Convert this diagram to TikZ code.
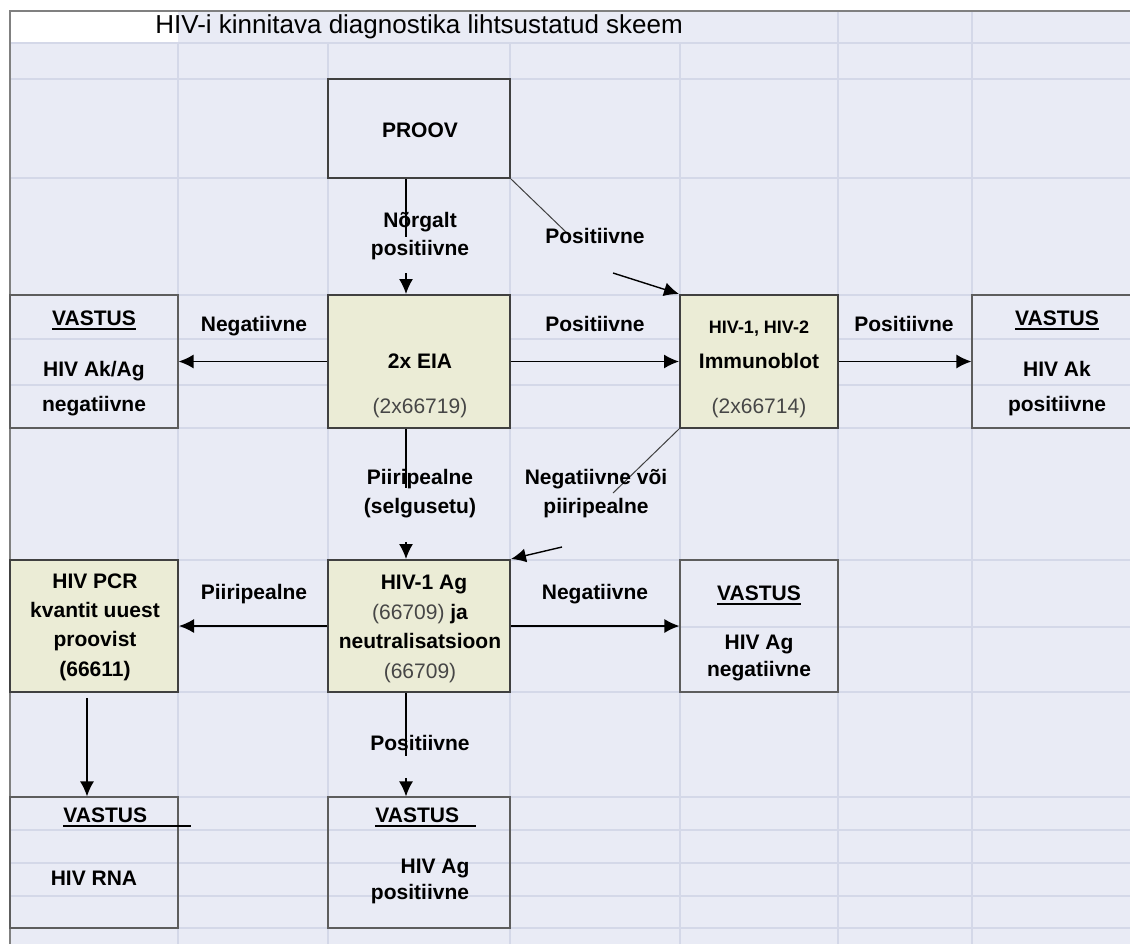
\documentclass[tikz,border=0pt]{standalone}
\usepackage{fontspec}
\setmainfont{Liberation Sans}
\usetikzlibrary{arrows.meta}
\usetikzlibrary{calc}
\usetikzlibrary{fit}

\definecolor{sheet}{RGB}{233,235,245}
\definecolor{gridline}{RGB}{212,216,232}
\definecolor{beige}{RGB}{235,236,214}
\definecolor{boxline}{RGB}{64,64,64}
\definecolor{codegray}{RGB}{70,70,70}

% underline with a heavier rule
\newcommand{\ulbox}[1]{\setbox0=\hbox{#1}\rlap{\copy0}\rule[-2.2pt]{\wd0}{0.8pt}}

\begin{document}
\begin{tikzpicture}[
    x=0.5pt, y=-0.5pt,
    >={Latex[length=7.5pt,width=7pt]},
    box/.style={draw=boxline, line width=1pt, inner sep=0pt},
    test/.style={box, fill=beige},
    answer/.style={draw=boxline!85, line width=0.6pt, inner sep=0pt},
    txt/.style={font=\fontsize{10.5pt}{14pt}\selectfont\bfseries,
      inner sep=0pt, text height=7.6pt, text depth=2.2pt},
    code/.style={txt, font=\fontsize{10.5pt}{14pt}\selectfont, text=codegray},
    small/.style={txt, font=\fontsize{9pt}{11pt}\selectfont\bfseries},
    flow/.style={->, line width=0.7pt},
    slant/.style={draw=boxline, line width=0.5pt}]

    \useasboundingbox (0,0) rectangle (1130,944);
    \fill [white] (0,0) rectangle (1130,944);
    \fill [sheet] (10,11) rectangle (1130,944);
    \fill [white] (10,11) rectangle (178,43);

    % sheet grid
    \foreach \y in {43,79,178,295,339,385,428,560,627,692,797,830,863,896,928}
      \draw [gridline, line width=0.75pt] (10,\y) -- (1130,\y);
    \foreach \x in {178,328,510,680}
      \draw [gridline, line width=0.75pt] (\x,43) -- (\x,944);
    \foreach \x in {838,972}
      \draw [gridline, line width=0.75pt] (\x,11) -- (\x,944);
    \draw [gray, line width=0.6pt] (10,944) -- (10,11) -- (1130,11);

    \node [anchor=west, inner sep=0pt, font=\fontsize{13pt}{15pt}\selectfont]
      (title) at (155,27) {HIV-i kinnitava diagnostika lihtsustatud skeem};

    % boxes
    \node [box, fill=sheet, fit={(328,79) (510,178)}] (proov) {};
    \node [test, fit={(328,295) (510,428)}] (eia) {};
    \node [test, fit={(680,295) (838,428)}] (blot) {};
    \node [answer, fit={(10,295) (178,428)}] (neg) {};
    \node [answer, fit={(972,295) (1142,428)}] (pos) {};
    \node [test, fit={(328,560) (510,692)}] (ag) {};
    \node [test, fit={(10,560) (178,692)}] (pcr) {};
    \node [answer, fit={(680,560) (838,692)}] (agneg) {};
    \node [answer, fit={(10,797) (178,928)}] (rna) {};
    \node [answer, fit={(328,797) (510,928)}] (agpos) {};

    % box texts
    \node [txt] (proovt) at (420,132) {PROOV};
    \node [txt] (eiat) at (420,363) {2x EIA};
    \node [code] (eiac) at (420,408) {(2x66719)};
    \node [small] (blott) at (759,328) {HIV-1, HIV-2};
    \node [txt] (blotn) at (759,363) {Immunoblot};
    \node [code] (blotc) at (759,408) {(2x66714)};
    \node [txt] (negv) at (94,320) {\ulbox{VASTUS}};
    \node [txt] (negt) at (94,371) {HIV Ak/Ag};
    \node [txt] (negn) at (94,406) {negatiivne};
    \node [txt] (posv) at (1057,320) {\ulbox{VASTUS}};
    \node [txt] (post) at (1057,371) {HIV Ak};
    \node [txt] (posn) at (1057,406) {positiivne};
    \node [txt] (agt) at (424,584) {HIV-1 Ag};
    \node [txt] (agc) at (420,614) {\textcolor{codegray}{\mdseries(66709)} ja};
    \node [txt] (agn) at (420,643) {neutralisatsioon};
    \node [code] (agd) at (420,673) {(66709)};
    \node [txt] (pcrt) at (95,583) {HIV PCR};
    \node [txt] (pcrk) at (95,612) {kvantit uuest};
    \node [txt] (pcrp) at (95,641) {proovist};
    \node [txt] (pcrc) at (95,671) {(66611)};
    \node [txt] (agnegv) at (759,595) {\ulbox{VASTUS}};
    \node [txt] (agnegt) at (759,644) {HIV Ag};
    \node [txt] (agnegn) at (759,671) {negatiivne};
    \node [txt, anchor=west] (rnav) at (63,817) {\ulbox{VASTUS\hspace{22pt}}};
    \node [txt] (rnat) at (94,880) {HIV RNA};
    \node [txt, anchor=west] (agposv) at (375,817) {\ulbox{VASTUS\hspace{8.5pt}}};
    \node [txt] (agpost) at (435,868) {HIV Ag};
    \node [txt] (agposn) at (420,894) {positiivne};

    % connectors
    \path ([xshift=-6.5pt]proov.south) -- ([xshift=-6.5pt]eia.north)
      coordinate [pos=0.5] (pe1) coordinate [pos=0.82] (pe2);
    \draw [line width=0.7pt] ([xshift=-6.5pt]proov.south) -- (pe1);
    \draw [flow] (pe2) -- ([xshift=-6.5pt]eia.north);

    \path ([xshift=-6.5pt]eia.south) -- ([xshift=-6.5pt]ag.north)
      coordinate [pos=0.455] (ea1) coordinate [pos=0.87] (ea2);
    \draw [line width=0.7pt] ([xshift=-6.5pt]eia.south) -- (ea1);
    \draw [flow] (ea2) -- ([xshift=-6.5pt]ag.north);

    \path ([xshift=-6.5pt]ag.south) -- ([xshift=-6.5pt]agpos.north)
      coordinate [pos=0.61] (ap1) coordinate [pos=0.82] (ap2);
    \draw [line width=0.7pt] ([xshift=-6.5pt]ag.south) -- (ap1);
    \draw [flow] (ap2) -- ([xshift=-6.5pt]agpos.north);

    \draw [flow] ([xshift=-3.5pt, yshift=-2.5pt]pcr.south)
      -- ([xshift=-3.5pt]rna.north);

    \draw [flow] (eia.west) -- (neg.east);
    \draw [flow] (eia.east) -- (blot.west);
    \draw [flow] (blot.east) -- (pos.west);
    \draw [flow] (ag.west) -- (pcr.east);
    \draw [flow] (ag.east) -- (agneg.west);

    \coordinate (s1) at (567,233);
    \coordinate (s2) at (613,273);
    \draw [slant] (proov.south east) -- (s1);
    \draw [flow] (s2) -- (blot.north west);
    \coordinate (s3) at (613,493);
    \coordinate (s4) at (562,547);
    \draw [slant] (blot.south west) -- (s3);
    \draw [flow] (s4) -- (ag.north east);

    % connector labels
    \node [txt] (weak1) at (420,222) {Nõrgalt};
    \node [txt] (weak2) at (420,250) {positiivne};
    \node [txt] (diagp) at (595,238) {Positiivne};
    \node [txt] (eianeg) at (254,326) {Negatiivne};
    \node [txt] (eiapos) at (595,326) {Positiivne};
    \node [txt] (blotpos) at (904,326) {Positiivne};
    \node [txt] (border1) at (420,479) {Piiripealne};
    \node [txt] (border2) at (420,508) {(selgusetu)};
    \node [txt] (diagn1) at (596,479) {Negatiivne või};
    \node [txt] (diagn2) at (596,508) {piiripealne};
    \node [txt] (agbord) at (254,594) {Piiripealne};
    \node [txt] (agnegl) at (595,594) {Negatiivne};
    \node [txt] (agposl) at (420,745) {Positiivne};

  \end{tikzpicture}
\end{document}
